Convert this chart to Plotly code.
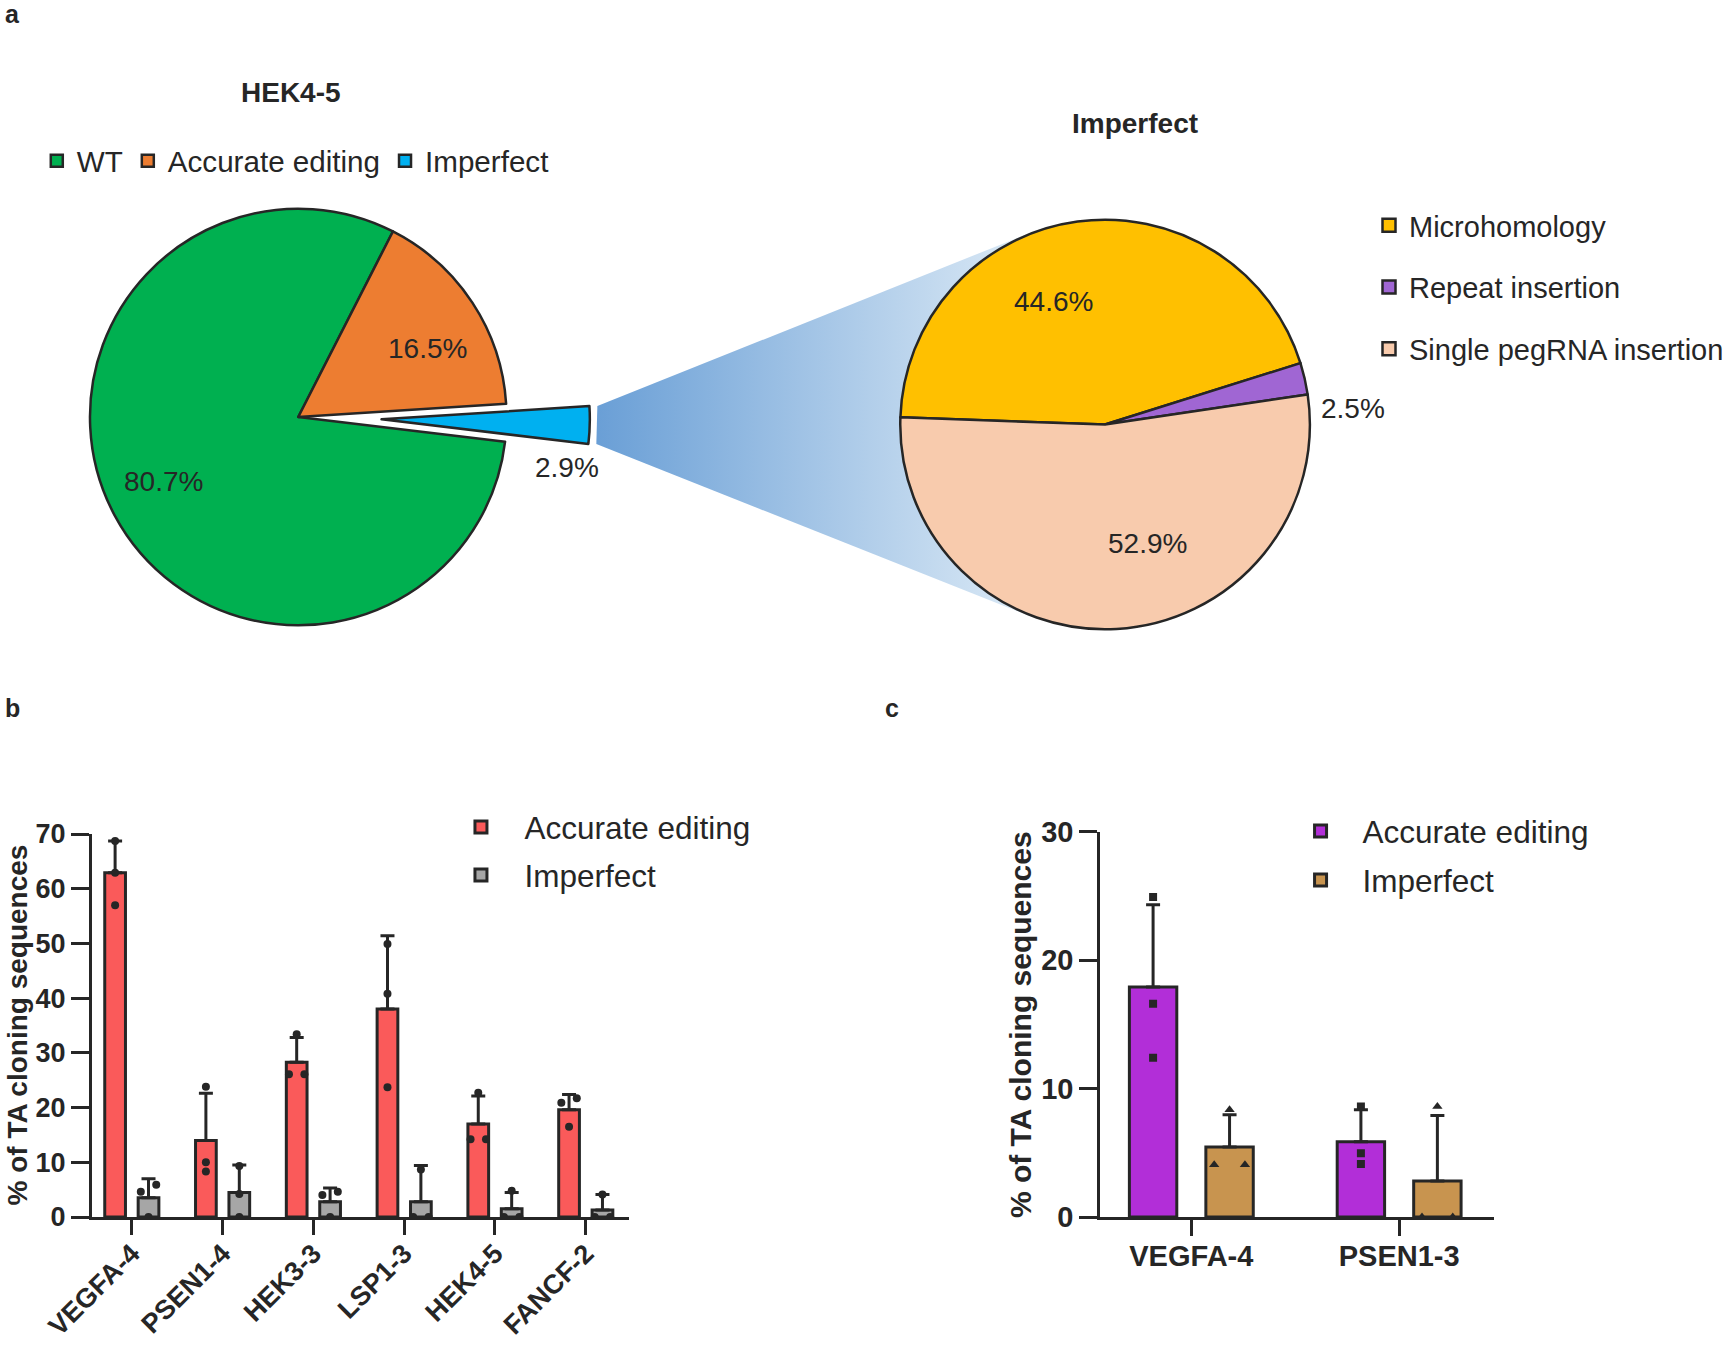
import math
import plotly.graph_objects as go

W, H = 1729, 1345
FONT = "Liberation Sans, Arial, Helvetica, sans-serif"
DARK = "#262626"

# ---------------- data ----------------
pie_main_labels = ["WT", "Accurate editing", "Imperfect"]
pie_main_values = [80.7, 16.5, 2.9]
pie_main_colors = ["#00B050", "#ED7D31", "#00B0F0"]

pie_imp_labels = ["Microhomology", "Repeat insertion", "Single pegRNA insertion"]
pie_imp_values = [44.6, 2.5, 52.9]
pie_imp_colors = ["#FFC000", "#A066D3", "#F8CBAD"]

b_categories = ["VEGFA-4", "PSEN1-4", "HEK3-3", "LSP1-3", "HEK4-5", "FANCF-2"]
b_accurate_mean = [62.9, 14.0, 28.3, 38.0, 17.0, 19.6]
b_accurate_sd = [5.8, 8.6, 4.5, 13.4, 5.1, 2.8]
b_imperfect_mean = [3.5, 4.5, 2.8, 2.8, 1.5, 1.3]
b_imperfect_sd = [3.5, 5.0, 2.5, 6.6, 3.0, 2.8]
b_accurate_points = [[68.7, 62.9, 57.0], [23.8, 10.0, 8.3], [33.4, 26.1, 26.1],
                     [49.9, 40.8, 23.7], [22.7, 14.2, 14.2], [21.7, 20.9, 16.5]]
b_imperfect_points = [[5.9, 4.6, 0.0], [9.3, 4.2, 0.0], [4.6, 4.0, 0.0],
                      [8.7, 0.0, 0.0], [4.8, 0.0, 0.0], [4.1, 0.0, 0.0]]

c_categories = ["VEGFA-4", "PSEN1-3"]
c_accurate_mean = [17.9, 5.85]
c_accurate_sd = [6.4, 2.5]
c_imperfect_mean = [5.45, 2.8]
c_imperfect_sd = [2.5, 5.1]
c_accurate_points = [[24.9, 16.6, 12.4], [8.6, 4.96, 4.12]]
c_imperfect_points = [[8.35, 4.07, 4.07], [8.6, 0.0, 0.0]]

y_title = "% of TA cloning sequences"

# ---------------- geometry (pixels) ----------------
def px_x(x):
    return x / W


def px_y(y):
    return 1 - y / H


L_CX, L_CY, L_R, PULL = 300.0, 417.0, 209.5, 0.40
R_CX, R_CY, R_R = 1111.5, 424.5, 206.0
ROT_L, ROT_R = 96.8, 272.0
# placement of in-slice percentage labels: (angle shift from slice middle, radius fraction, dy)
LBL_L = (4.0, 0.71, 4.0)
LBL_R = (-16.0, 0.63, -4.0)

half_l = L_R * (1 + PULL)
dom_l = dict(x=[px_x(L_CX - half_l), px_x(L_CX + half_l)],
             y=[px_y(L_CY + half_l), px_y(L_CY - half_l)])
dom_r = dict(x=[px_x(R_CX - R_R), px_x(R_CX + R_R)],
             y=[px_y(R_CY + R_R), px_y(R_CY - R_R)])


def slice_angles(values, rot):
    tot = sum(values)
    out, a = [], rot
    for v in values:
        b = a + v / tot * 360.0
        out.append((a, b))
        a = b
    return out


def pt(cx, cy, r, ang):
    t = math.radians(ang)
    return cx + r * math.sin(t), cy - r * math.cos(t)


ang_l = slice_angles(pie_main_values, ROT_L)
ang_r = slice_angles(pie_imp_values, ROT_R)

# pulled "Imperfect" slice of the left pie
a0, a1 = ang_l[2]
mid = (a0 + a1) / 2
pcx, pcy = pt(L_CX, L_CY, PULL * L_R, mid)
o0 = pt(pcx, pcy, L_R, a0)
o1 = pt(pcx, pcy, L_R, a1)
p_top = min(o0, o1, key=lambda p: p[1])
p_bot = max(o0, o1, key=lambda p: p[1])
GAP = 8
p_top = (p_top[0] + GAP, p_top[1])
p_bot = (p_bot[0] + GAP, p_bot[1])


def tangent(p, upper):
    dx, dy = p[0] - R_CX, p[1] - R_CY
    d = math.hypot(dx, dy)
    a = math.atan2(dy, dx)
    b = math.acos(R_R / d)
    cands = [(R_CX + R_R * math.cos(a + s * b), R_CY + R_R * math.sin(a + s * b)) for s in (-1, 1)]
    return min(cands, key=lambda q: q[1]) if upper else max(cands, key=lambda q: q[1])


t_up = tangent(p_top, True)
t_lo = tangent(p_bot, False)
poly = [p_top, t_up, (R_CX, R_CY), t_lo, p_bot, p_top]

fig = go.Figure()

# gradient connector between the pulled slice and the second pie
fig.add_trace(go.Scatter(
    x=[p[0] for p in poly], y=[p[1] for p in poly], mode="lines",
    line=dict(width=0), fill="toself",
    fillgradient=dict(type="horizontal", colorscale=[[0, "#6A9FD6"], [1, "#DCEAF6"]],
                      start=p_top[0], stop=max(t_up[0], t_lo[0])),
    xaxis="x3", yaxis="y3", showlegend=False, hoverinfo="skip"))

# pies
fig.add_trace(go.Pie(
    labels=pie_main_labels, values=pie_main_values, sort=False, direction="clockwise",
    rotation=ROT_L, pull=[0, 0, PULL], domain=dom_l, textinfo="none",
    marker=dict(colors=pie_main_colors, line=dict(color=DARK, width=2.5)),
    legend="legend", showlegend=True))

fig.add_trace(go.Pie(
    labels=pie_imp_labels, values=pie_imp_values, sort=False, direction="clockwise",
    rotation=ROT_R, domain=dom_r, textinfo="none",
    marker=dict(colors=pie_imp_colors, line=dict(color=DARK, width=2.5)),
    showlegend=False))

for i, (lab, col) in enumerate(zip(pie_imp_labels, pie_imp_colors)):
    fig.add_trace(go.Scatter(
        x=[None], y=[None], mode="markers", name=lab,
        marker=dict(symbol="square", size=13, color=col, line=dict(color=DARK, width=2.5)),
        xaxis="x3", yaxis="y3", legend="legend2", legendgroup=f"imp{i}", showlegend=True))

# bar charts
BARGAP, BARGROUPGAP = 0.264, 0.38
OFF = (1 - BARGAP) / 4


def dodge(vals, thr, step):
    order = sorted(range(len(vals)), key=lambda k: vals[k])
    offs = [0.0] * len(vals)
    clusters, cur = [], [order[0]]
    for k in order[1:]:
        if abs(vals[k] - vals[cur[-1]]) < thr:
            cur.append(k)
        else:
            clusters.append(cur)
            cur = [k]
    clusters.append(cur)
    for cl in clusters:
        n = len(cl)
        for j, k in enumerate(cl):
            offs[k] = (j - (n - 1) / 2) * (2 * step if n == 2 else step)
    return offs


def add_group(cats, mean, sd, pts, side, color, name, xa, ya, leg, symbol, thr, step, msize):
    idx = list(range(len(cats)))
    fig.add_trace(go.Bar(
        x=idx, y=mean, name=name, xaxis=xa, yaxis=ya, legend=leg, legendgroup=leg + name,
        marker=dict(color=color, line=dict(color=DARK, width=3)),
        error_y=dict(type="data", array=sd, arrayminus=[0] * len(sd), symmetric=False,
                     color=DARK, thickness=3, width=7)))
    xs, ys = [], []
    for i, p in enumerate(pts):
        offs = dodge(p, thr, step)
        for v, o in zip(p, offs):
            xs.append(i + side * OFF + o)
            ys.append(v)
    fig.add_trace(go.Scatter(
        x=xs, y=ys, mode="markers", xaxis=xa, yaxis=ya, showlegend=False,
        marker=dict(symbol=symbol, size=msize, color=DARK)))


add_group(b_categories, b_accurate_mean, b_accurate_sd, b_accurate_points, -1, "#FA5A5A",
          "Accurate editing", "x", "y", "legend3", "circle", 1.5, 0.085, 8)
add_group(b_categories, b_imperfect_mean, b_imperfect_sd, b_imperfect_points, 1, "#A6A6A6",
          "Imperfect", "x", "y", "legend3", "circle", 1.5, 0.085, 8)
add_group(c_categories, c_accurate_mean, c_accurate_sd, c_accurate_points, -1, "#B22ED8",
          "Accurate editing", "x2", "y2", "legend4", "square", 0.25, 0.074, 8)
add_group(c_categories, c_imperfect_mean, c_imperfect_sd, c_imperfect_points, 1, "#C8944F",
          "Imperfect", "x2", "y2", "legend4", "triangle-up", 0.25, 0.074, 9)

axis_common = dict(showline=True, linewidth=3, linecolor=DARK, ticks="outside", tickwidth=3,
                   tickcolor=DARK, showgrid=False, zeroline=False, automargin=False,
                   fixedrange=True)

fig.update_layout(
    width=W, height=H, margin=dict(l=0, r=0, t=0, b=0), template="none",
    paper_bgcolor="white", plot_bgcolor="rgba(0,0,0,0)",
    font=dict(family=FONT, color=DARK),
    barmode="group", bargap=BARGAP, bargroupgap=BARGROUPGAP,
    xaxis=dict(axis_common, domain=[px_x(92.4), px_x(633)], range=[-0.44, 5.48], anchor="y",
               tickvals=list(range(len(b_categories))), ticktext=b_categories, tickangle=-45,
               ticklen=15, ticklabelstandoff=-8,
               tickfont=dict(size=27, weight="bold", color=DARK)),
    yaxis=dict(axis_common, domain=[px_y(1217), px_y(834)], range=[0, 70], dtick=10, anchor="x",
               ticklen=18, tickfont=dict(size=27, weight="bold", color=DARK)),
    xaxis2=dict(axis_common, domain=[px_x(1106.7), px_x(1502.6)], range=[-0.438, 1.456],
                anchor="y2", tickvals=list(range(len(c_categories))), ticktext=c_categories,
                tickangle=0, ticklen=16, ticklabelstandoff=-5,
                tickfont=dict(size=29, weight="bold", color=DARK)),
    yaxis2=dict(axis_common, domain=[px_y(1217), px_y(831.5)], range=[0, 30], dtick=10,
                anchor="x2", ticklen=18, tickfont=dict(size=29, weight="bold", color=DARK)),
    xaxis3=dict(domain=[0, 1], range=[0, W], visible=False, anchor="y3", fixedrange=True),
    yaxis3=dict(domain=[0, 1], range=[H, 0], visible=False, anchor="x3", fixedrange=True),
    legend=dict(orientation="h", x=px_x(37), y=px_y(135), xanchor="left", yanchor="top",
                font=dict(size=29.6, color=DARK), bgcolor="rgba(0,0,0,0)", itemclick=False),
    legend2=dict(orientation="v", x=px_x(1377), y=px_y(200), xanchor="left", yanchor="top",
                 font=dict(size=29, color=DARK), bgcolor="rgba(0,0,0,0)",
                 traceorder="grouped", tracegroupgap=21, itemclick=False),
    legend3=dict(orientation="v", x=px_x(440), y=px_y(800), xanchor="left", yanchor="top",
                 font=dict(size=31.5, color=DARK), bgcolor="rgba(0,0,0,0)", itemwidth=77,
                 traceorder="grouped", tracegroupgap=4, itemclick=False),
    legend4=dict(orientation="v", x=px_x(1286), y=px_y(804), xanchor="left", yanchor="top",
                 font=dict(size=31.5, color=DARK), bgcolor="rgba(0,0,0,0)", itemwidth=74,
                 traceorder="grouped", tracegroupgap=5, itemclick=False),
)

ann = [
    dict(text="<b>a</b>", x=px_x(3), y=px_y(-2), xanchor="left", yanchor="top", font=dict(size=25)),
    dict(text="<b>b</b>", x=px_x(3), y=px_y(692), xanchor="left", yanchor="top", font=dict(size=25)),
    dict(text="<b>c</b>", x=px_x(888), y=px_y(692), xanchor="left", yanchor="top", font=dict(size=25)),
    dict(text="<b>HEK4-5</b>", x=px_x(293), y=px_y(93), xanchor="center", yanchor="middle",
         font=dict(size=28)),
    dict(text="<b>Imperfect</b>", x=px_x(1142), y=px_y(124), xanchor="center", yanchor="middle",
         font=dict(size=28)),
    # y-axis titles of panels b and c
    dict(text=f"<b>{y_title}</b>", x=px_x(0), y=px_y(1025), xanchor="left", yanchor="middle",
         textangle=-90, font=dict(size=28), borderpad=0),
    dict(text=f"<b>{y_title}</b>", x=px_x(1026), y=px_y(1025), xanchor="center",
         yanchor="middle", textangle=-90, font=dict(size=30)),
]

# percentage labels inside the large slices
for (cx, cy, r, angs, vals, (shift, frac, dy)) in [
        (L_CX, L_CY, L_R, ang_l, pie_main_values, LBL_L),
        (R_CX, R_CY, R_R, ang_r, pie_imp_values, LBL_R)]:
    for (s0, s1), v in zip(angs, vals):
        if v < 5:
            continue
        lx, ly = pt(cx, cy, r * frac, (s0 + s1) / 2 + shift)
        ann.append(dict(text=f"{v}%", x=px_x(lx), y=px_y(ly + dy), xanchor="center",
                        yanchor="middle", font=dict(size=28)))

# labels of the small slices, just outside their outer corner
c29 = pt(pcx, pcy, L_R, max(a0, a1))
c25 = pt(R_CX, R_CY, R_R, ang_r[1][1])
ann += [
    dict(text=f"{pie_main_values[2]}%", x=px_x(c29[0] - 21), y=px_y(c29[1] + 23),
         xanchor="center", yanchor="middle", font=dict(size=28)),
    dict(text=f"{pie_imp_values[1]}%", x=px_x(c25[0] + 11), y=px_y(c25[1] + 14),
         xanchor="left", yanchor="middle", font=dict(size=28)),
]
for a in ann:
    a.update(xref="paper", yref="paper", showarrow=False)
    a["font"].update(family=FONT, color=DARK)
fig.update_layout(annotations=ann)

fig.write_html(
    "out.html",
    config={"displayModeBar": False},
    post_script=("document.body.style.margin='0';"
                 "document.body.style.overflow='hidden';"
                 "document.documentElement.style.overflow='hidden';"),
)
